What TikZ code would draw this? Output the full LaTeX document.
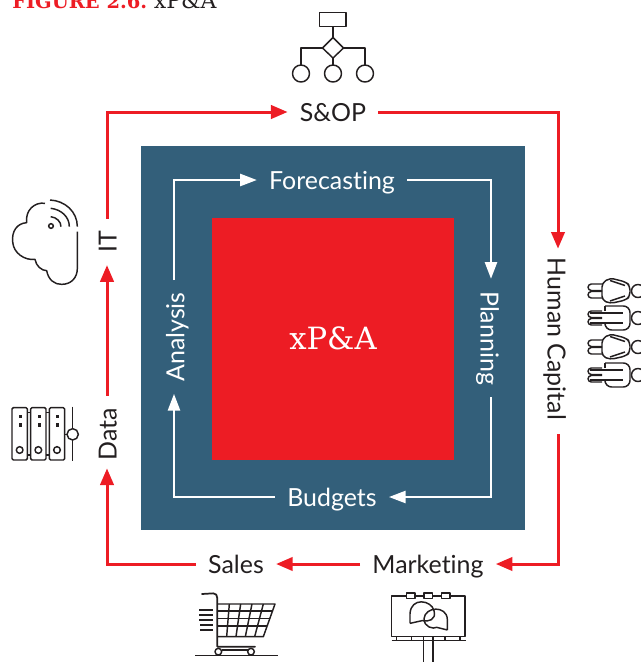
\documentclass[tikz,border=0pt]{standalone}
\usepackage{fontspec}
\setmainfont[Ligatures=NoCommon]{Lato}
\newfontfamily\slab{DejaVu Serif}
\usetikzlibrary{arrows.meta}
\definecolor{xred}{HTML}{ED1C24}
\definecolor{xblue}{HTML}{335F7A}
\definecolor{xink}{HTML}{231F20}
\tikzset{
  lbl/.style={font=\fontsize{18.7}{22}\selectfont,text height=14.5pt,text depth=0pt,inner ysep=0pt,inner xsep=9pt},
  redlbl/.style={lbl,text=xink},
  whitelbl/.style={lbl,text=white},
  sidelbl/.style={text height=15.5pt},
  redline/.style={draw=xred,line width=2.25pt,-{Triangle[length=12.5pt,width=10pt]}},
  whiteline/.style={draw=white,line width=1.7pt,-{Triangle[length=12.5pt,width=9pt]}},
  icon/.style={draw=xink,line width=1.1pt,line join=round},
}
\begin{document}
\begin{tikzpicture}[x=0.75pt,y=-0.75pt]
\useasboundingbox (0,0) rectangle (641,662);
\clip (0,0) rectangle (641,662);
% title
\node[anchor=base west,inner sep=0pt] (title) at (12,8) {\textcolor{xred}{\slab\bfseries\fontsize{14.6}{18}\selectfont FIGURE 2.6.}\hspace{5pt}\textcolor{xink}{\slab\fontsize{16.5}{18}\selectfont xP\&A}};
% squares
\node[fill=xblue,minimum size=288pt,inner sep=0pt] (outer) at (333,338) {};
\node[fill=xred,minimum size=181.5pt,inner sep=0pt,text=white,font=\slab\fontsize{23}{26}\selectfont] (core) at (333,338.5) {xP\&A};
% red labels
\node[redlbl] (sop) at (333,112) {S\&OP};
\node[redlbl,sidelbl,rotate=-90] (hc) at (558,339) {Human Capital};
\node[redlbl] (mkt) at (428,564) {Marketing};
\node[redlbl] (sales) at (236,564) {Sales};
\node[redlbl,rotate=90] (data) at (107,434) {Data};
\node[redlbl,rotate=90] (it) at (107,242) {IT};
% white labels
\node[whitelbl] (fc) at (332,180) {Forecasting};
\node[whitelbl,sidelbl,rotate=-90] (plan) at (491,338) {Planning};
\node[whitelbl] (bud) at (332,497) {Budgets};
\node[whitelbl,sidelbl,rotate=90] (ana) at (174,337) {Analysis};
% red connectors
\draw[redline] (it.east) |- (sop.west);
\draw[redline,shorten >=-2.25pt] (sop.east) -| (hc.west);
\draw[redline,shorten <=1.5pt] (hc.east) |- (mkt.east);
\draw[redline] (mkt.west) -- (sales.east);
\draw[redline,shorten >=-3pt] (sales.west) -| (data.west);
\draw[redline] (data.east) -- (it.west);
% white connectors
\draw[whiteline] (ana.east) |- (fc.west);
\draw[whiteline] (fc.east) -| (plan.west);
\draw[whiteline] (plan.east) |- (bud.east);
\draw[whiteline] (bud.west) -| (ana.west);
% org icon
\begin{scope}[icon]
\draw (319.5,12.5) rectangle (346,26.5);
\draw (333,26.5) -- (333,37.5);
\draw (333,37.5) -- (343.5,48) -- (333,58) -- (322.5,48) -- cycle;
\draw (322.5,48) -- (301,48) -- (301,65);
\draw (343.5,48) -- (365,48) -- (365,65);
\draw (333,58) -- (333,65);
\draw (301,73.5) circle (8.5);
\draw (333,73.5) circle (8.5);
\draw (365,73.5) circle (8.5);
\end{scope}
% cloud icon
\begin{scope}[shift={(0,190)},x=0.25pt,y=-0.25pt,icon]
\draw (135,40) .. controls (105,35) and (75,60) .. (80,98)
  .. controls (50,100) and (35,125) .. (38,155)
  .. controls (40,190) and (75,212) .. (105,208)
  .. controls (108,228) and (125,242) .. (140,242)
  .. controls (145,270) and (165,284) .. (185,283)
  .. controls (215,283) and (232,262) .. (232,235) -- (232,125);
\draw (150,30) .. controls (195,32) and (232,65) .. (232,110);
\draw (152,55) .. controls (183,58) and (208,80) .. (208,110);
\draw (152,80) .. controls (170,82) and (183,95) .. (183,110);
\draw (153,108) circle (7);
\end{scope}
% server icon
\begin{scope}[shift={(0,190)},x=0.25pt,y=-0.25pt,icon]
\foreach \a in {36,92,148}{
  \draw[rounded corners=1pt] (\a,653) rectangle ++(46,157);
  \fill[xink] (\a+21,675) rectangle ++(9,10);
  \fill[xink] (\a+21,700) rectangle ++(9,10);
  \draw (\a+23,780) circle (10);
}
\draw (82,668) -- (92,668) (82,795) -- (92,795) (138,668) -- (148,668) (138,795) -- (148,795);
\draw (217,650) -- (217,716) (217,750) -- (217,812);
\draw (194,733) -- (201,733);
\draw (218,733) circle (17);
\end{scope}
% people icon
\foreach \yy/\kind in {291/0,318/1,347/0,375/1}{
\begin{scope}[shift={(587,\yy)},icon]
  \draw (51,0) circle (6.5);
  \draw[rounded corners=2.5pt] (15,-7) -- (1,-7) -- (1,-0.5) -- (15,-0.5);
  \draw[rounded corners=2.5pt] (15,7) -- (1,7) -- (1,0.5) -- (15,0.5);
  \ifnum\kind=0
    \draw[rounded corners=3pt] (15,-8) -- (15,9) -- (23,12.5) -- (39,9) -- (43,5) -- (43,-5) -- (39,-9) -- (23,-13) -- cycle;
    \draw (23,-10.5) -- (38,-5.5) (23,10) -- (38,5);
  \else
    \draw[rounded corners=5pt] (18,-12) -- (43,-12) -- (43,12) -- (18,12) -- (18,7);
    \draw (18,-7) -- (18,-12);
    \draw (3,-5) -- (36,-5) (3,5) -- (36,5);
  \fi
\end{scope}}
% cart icon
\begin{scope}[shift={(180,540)},x=0.25pt,y=-0.25pt,icon]
\draw[line width=1.3pt,line cap=round] (66,162) -- (100,160) .. controls (108,160) and (112,166) .. (112,175) -- (112,320) -- (225,320);
\draw (112,192) -- (285,192) -- (250,290) -- (112,290);
\foreach \h/\r in {213/278,235/270,258/262}{\draw (112,\h) -- (\r,\h);}
\foreach \t/\b in {148/140,182/168,216/196,250/224}{\draw (\t,192) -- (\b,290);}
\foreach \h/\l in {210/57,225/57,240/57,255/60,270/60}{\draw (\l,\h) -- (100,\h);}
\draw (115,335) circle (10) (213,335) circle (10);
\draw (125,330) -- (203,330);
\draw (45,347) -- (295,347);
\end{scope}
% billboard icon
\begin{scope}[shift={(180,540)},x=0.25pt,y=-0.25pt,icon]
\draw (635,168) rectangle (855,290);
\foreach \a in {680,732,785}{\draw[fill=white] (\a,159) rectangle ++(25,17);}
\draw (635,302) -- (857,302);
\foreach \a in {650,695,795,840}{\draw (\a,290) -- (\a,302);}
\draw[fill=white] (731,290) rectangle (759,302);
\draw (731,302) -- (731,366) (759,302) -- (759,366);
\draw (690,250) -- (690,222) .. controls (692,170) and (755,180) .. (762,212)
  .. controls (770,240) and (745,246) .. (726,242) -- (690,250);
\draw (802,270) -- (802,238) .. controls (800,195) and (735,200) .. (732,236)
  .. controls (732,262) and (760,268) .. (770,262) -- (802,270);
\end{scope}
\end{tikzpicture}
\end{document}
